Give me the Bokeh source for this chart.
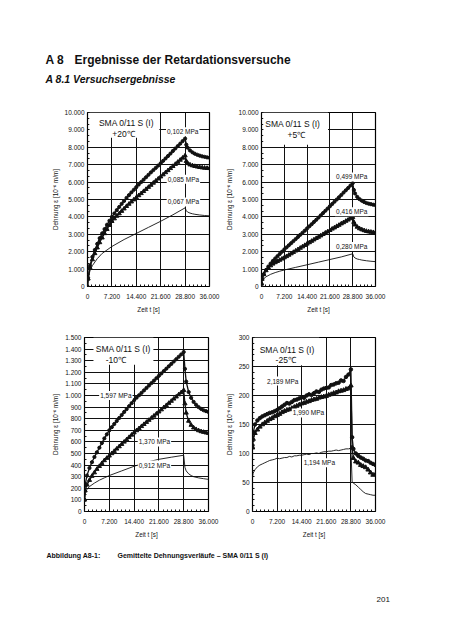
from bokeh.plotting import figure
from bokeh.models import Range1d, FixedTicker, Label, BoxAnnotation
from bokeh.layouts import column, row
from bokeh.embed import file_html
from bokeh.resources import INLINE

FONT = "Liberation Sans"
INK = "#111111"

# ---------------- data ----------------
# sampling times [s]
T_LOAD = [0, 180] + list(range(720, 28801, 720))
T_REC = [28800, 29160, 29520, 30240, 30960, 31680, 32400, 33120, 33840, 34560, 35280, 36000]
T_THIN_LOAD = [0, 180, 720, 1440, 2880, 4320, 5760, 7200, 10800, 14400, 18000, 21600, 25200, 28800]
T_THIN_REC = [28800, 29160, 29520, 30240, 30960, 31680, 33120, 34560, 36000]

X_TICKS = [0, 7200, 14400, 21600, 28800, 36000]
X_TICK_LABELS = ["0", "7.200", "14.400", "21.600", "28.800", "36.000"]

# +20 °C
P20_102_LOAD = [0, 500, 1200, 1700, 2100, 2450, 2780, 3050, 3300, 3550, 3780, 4000, 4200, 4390, 4570, 4750,
                4920, 5090, 5250, 5410, 5560, 5710, 5860, 6000, 6140, 6280, 6420, 6560, 6690, 6820, 6950,
                7080, 7220, 7360, 7500, 7640, 7790, 7930, 8070, 8210, 8360, 8500]
P20_102_REC = [8500, 8150, 7980, 7820, 7710, 7630, 7570, 7520, 7480, 7450, 7420, 7400]
P20_085_LOAD = [0, 450, 1100, 1550, 1900, 2230, 2530, 2800, 3050, 3290, 3520, 3750, 3900, 4050, 4190, 4330,
                4470, 4610, 4740, 4870, 4990, 5110, 5230, 5350, 5470, 5590, 5710, 5830, 5950, 6070, 6190,
                6310, 6430, 6550, 6670, 6790, 6910, 7030, 7150, 7270, 7390, 7520]
P20_085_REC = [7520, 7200, 7080, 7000, 6950, 6910, 6880, 6850, 6830, 6810, 6800, 6790]
P20_067_LOAD = [0, 450, 900, 1200, 1600, 1900, 2100, 2300, 2700, 3050, 3400, 3750, 4120, 4520]
P20_067_REC = [4520, 4350, 4280, 4220, 4180, 4150, 4110, 4080, 4060]

# +5 °C
P5_499_LOAD = [150, 450, 700, 950, 1150, 1320, 1470, 1610, 1740, 1870, 2000, 2130, 2250, 2370, 2490, 2610,
               2730, 2850, 2970, 3090, 3210, 3340, 3460, 3580, 3710, 3830, 3960, 4090, 4220, 4350, 4480,
               4610, 4740, 4870, 5000, 5130, 5260, 5400, 5530, 5660, 5800, 5940]
P5_499_REC = [5940, 5550, 5350, 5150, 5020, 4930, 4860, 4800, 4760, 4730, 4700, 4680]
P5_416_LOAD = [150, 430, 700, 920, 1080, 1200, 1300, 1380, 1450, 1520, 1590, 1660, 1730, 1810, 1890, 1970,
               2050, 2130, 2210, 2290, 2370, 2450, 2530, 2610, 2690, 2770, 2840, 2920, 3000, 3080, 3150,
               3230, 3310, 3380, 3460, 3530, 3610, 3680, 3760, 3830, 3910, 3980]
P5_416_REC = [3980, 3700, 3550, 3420, 3330, 3270, 3220, 3180, 3150, 3130, 3110, 3100]
P5_280_LOAD = [100, 300, 450, 560, 700, 800, 880, 950, 1100, 1250, 1400, 1550, 1700, 1880]
P5_280_REC = [1880, 1700, 1640, 1580, 1550, 1520, 1480, 1450, 1430]

# -10 °C
M10_1597_LOAD = [100, 230, 310, 375, 425, 470, 510, 550, 590, 630, 665, 700, 727, 754, 780, 806, 832, 858,
                 883, 908, 934, 960, 981, 1002, 1023, 1044, 1065, 1086, 1107, 1128, 1149, 1170, 1190, 1211,
                 1231, 1252, 1272, 1293, 1313, 1334, 1354, 1375]
M10_1597_REC = [1375, 1230, 1120, 1030, 980, 945, 920, 900, 885, 873, 865, 858]
M10_1370_LOAD = [100, 180, 230, 270, 305, 335, 365, 390, 415, 440, 460, 480, 500, 520, 540, 560, 580, 600,
                 620, 640, 660, 680, 698, 716, 734, 752, 770, 788, 806, 824, 842, 860, 878, 897, 915, 934,
                 952, 971, 989, 1008, 1026, 1045]
M10_1370_REC = [1045, 930, 850, 780, 745, 722, 708, 698, 690, 684, 679, 675]
M10_912_LOAD = [100, 150, 190, 215, 245, 270, 290, 310, 350, 390, 425, 450, 468, 485]
M10_912_REC = [485, 380, 350, 325, 310, 300, 290, 283, 277]

# -25 °C
M25_2189_LOAD = [114, 135, 150, 157, 161, 164, 166, 168, 170, 171, 173, 175, 178, 181, 184, 187, 186, 189,
                 192, 193, 195, 197, 196, 200, 202, 201, 204, 207, 206, 210, 212, 213, 214, 218, 219, 221,
                 222, 226, 225, 232, 236, 245]
M25_2189_REC = [245, 128, 108, 100, 96, 93, 91, 88, 87, 84, 82, 80]
M25_1990_LOAD = [110, 125, 135, 141, 146, 150, 153, 156, 159, 161, 164, 166, 168, 171, 173, 175, 176, 178,
                 180, 182, 184, 186, 187, 189, 190, 192, 193, 194, 196, 197, 198, 199, 201, 202, 204, 205,
                 207, 208, 209, 211, 212, 217]
M25_1990_REC = [217, 110, 92, 86, 84, 80, 78, 76, 72, 67, 63, 64]
M25_1194_LOAD = [60, 66, 72, 77, 80, 82, 84, 86, 88, 89, 90, 92, 91, 92, 93, 93, 95, 94, 96, 96, 97, 97,
                 98, 99, 98, 100, 100, 101, 100, 102, 103, 103, 104, 104, 105, 106, 105, 106, 107, 108,
                 108, 109]
M25_1194_REC = [109, 51, 49, 46, 42, 38, 34, 31, 30, 29, 28, 28]

Y_TICKS_10K = [0, 1000, 2000, 3000, 4000, 5000, 6000, 7000, 8000, 9000, 10000]
Y_LABELS_10K = ["0", "1.000", "2.000", "3.000", "4.000", "5.000", "6.000", "7.000", "8.000", "9.000", "10.000"]
Y_TICKS_1500 = list(range(0, 1501, 100))
Y_LABELS_1500 = ["0", "100", "200", "300", "400", "500", "600", "700", "800", "900",
                 "1.000", "1.100", "1.200", "1.300", "1.400", "1.500"]
Y_TICKS_300 = [0, 50, 100, 150, 200, 250, 300]
Y_LABELS_300 = ["0", "50", "100", "150", "200", "250", "300"]

Y_LABEL = "Dehnung \u03b5 [10\u207b\u2076 m/m]"


def panel(w, h, bl, br, bt, bb, ymax, yticks, ylabels, yminor_step,
          marked, thin, curve_labels, box, titles):
    p = figure(width=w, height=h, x_range=Range1d(0, 36000), y_range=Range1d(0, ymax),
               min_border_left=bl, min_border_right=br, min_border_top=bt, min_border_bottom=bb,
               toolbar_location=None, output_backend="svg",
               outline_line_color="black", outline_line_width=1.2,
               background_fill_color="white", border_fill_color="white")
    yminor = [i * yminor_step for i in range(int(round(ymax / yminor_step)) + 1)]
    p.xaxis.ticker = FixedTicker(ticks=X_TICKS, minor_ticks=list(range(0, 36001, 1200)))
    p.xaxis.major_label_overrides = dict(zip(X_TICKS, X_TICK_LABELS))
    p.yaxis.ticker = FixedTicker(ticks=yticks, minor_ticks=yminor)
    p.yaxis.major_label_overrides = dict(zip(yticks, ylabels))
    p.xaxis.axis_label = "Zeit t [s]"
    p.yaxis.axis_label = Y_LABEL
    for ax in (p.xaxis, p.yaxis):
        ax.axis_line_color = None
        ax.major_tick_in = 0
        ax.major_tick_out = 0
        ax.minor_tick_in = 2
        ax.minor_tick_out = 0
        ax.minor_tick_line_color = INK
        ax.major_label_text_font = FONT
        ax.major_label_text_font_size = "6.5px"
        ax.major_label_text_color = INK
        ax.axis_label_text_font = FONT
        ax.axis_label_text_font_size = "6.3px"
        ax.axis_label_text_font_style = "normal"
        ax.axis_label_text_color = INK
    p.xaxis.major_label_standoff = 7
    p.xaxis.axis_label_standoff = 4
    p.yaxis.major_label_standoff = 3
    p.yaxis.axis_label_standoff = 3
    p.xgrid.ticker = FixedTicker(ticks=X_TICKS)
    p.ygrid.ticker = FixedTicker(ticks=yticks)
    for g in (p.xgrid, p.ygrid):
        g.grid_line_color = INK
        g.grid_line_width = 1
        g.grid_line_alpha = 1

    for t, v in thin:
        p.line(t, v, line_color=INK, line_width=0.9)
    for t, v, marker, size in marked:
        p.line(t, v, line_color=INK, line_width=1.3)
        p.scatter(t, v, marker=marker, size=size, fill_color=INK, line_color=INK)

    l, r, b, tp = box
    p.add_layout(BoxAnnotation(left=l, right=r, bottom=b, top=tp, fill_color="white",
                               fill_alpha=1, line_alpha=0))
    for text, x, y in titles:
        p.add_layout(Label(x=x, y=y, text=text, text_font=FONT, text_font_size="8.5px",
                           text_color=INK, text_align="center", text_baseline="middle"))
    for text, x, y in curve_labels:
        p.add_layout(Label(x=x, y=y, text=text, text_font=FONT, text_font_size="6.5px",
                           text_color=INK, text_align="center", text_baseline="middle",
                           background_fill_color="white", background_fill_alpha=1, padding=1))
    return p


def full(load_t, load_v, rec_t, rec_v):
    return load_t + rec_t[1:], load_v + rec_v[1:]


f1 = panel(220, 220, 87, 11, 9, 36, 10000, Y_TICKS_10K, Y_LABELS_10K, 1000 / 3,
           [(*full(T_LOAD, P20_102_LOAD, T_REC, P20_102_REC), "circle", 3.2),
            (*full(T_LOAD, P20_085_LOAD, T_REC, P20_085_REC), "triangle", 4.2)],
           [full(T_THIN_LOAD, P20_067_LOAD, T_THIN_REC, P20_067_REC)],
           [("0,102 MPa", 28100, 8900), ("0,085 MPa", 28300, 6170), ("0,067 MPa", 28300, 4860)],
           (600, 21200, 8550, 10000),
           [("SMA 0/11 S (I)", 11500, 9400), ("+20\u2103", 10600, 8740)])

f2 = panel(216, 220, 41, 61, 10, 35, 10000, Y_TICKS_10K, Y_LABELS_10K, 1000 / 3,
           [(*full(T_LOAD, P5_499_LOAD, T_REC, P5_499_REC), "circle", 3.2),
            (*full(T_LOAD, P5_416_LOAD, T_REC, P5_416_REC), "triangle", 4.2)],
           [full(T_THIN_LOAD, P5_280_LOAD, T_THIN_REC, P5_280_REC)],
           [("0,499 MPa", 28500, 6300), ("0,416 MPa", 28500, 4300), ("0,280 MPa", 28500, 2300)],
           (600, 21000, 8150, 10000),
           [("SMA 0/11 S (I)", 9900, 9330), ("+5\u2103", 11000, 8690)])

f3 = panel(220, 222, 84, 12, 13, 33, 1500, Y_TICKS_1500, Y_LABELS_1500, 50,
           [(*full(T_LOAD, M10_1597_LOAD, T_REC, M10_1597_REC), "circle", 3.2),
            (*full(T_LOAD, M10_1370_LOAD, T_REC, M10_1370_REC), "triangle", 4.2)],
           [full(T_THIN_LOAD, M10_912_LOAD, T_THIN_REC, M10_912_REC)],
           [("1,597 MPa", 9100, 1000), ("1,370 MPa", 20300, 600), ("0,912 MPa", 20300, 400)],
           (2600, 20000, 1265, 1500),
           [("SMA 0/11 S (I)", 11260, 1400), ("-10\u2103", 9090, 1310)])

f4 = panel(216, 222, 32, 61, 15, 32, 300, Y_TICKS_300, Y_LABELS_300, 10,
           [(*full(T_LOAD, M25_2189_LOAD, T_REC, M25_2189_REC), "circle", 3.5),
            (*full(T_LOAD, M25_1990_LOAD, T_REC, M25_1990_REC), "triangle", 4.5)],
           [full(T_LOAD, M25_1194_LOAD, T_REC, M25_1194_REC)],
           [("2,189 MPa", 8850, 225), ("1,990 MPa", 16390, 170), ("1,194 MPa", 19565, 84)],
           (600, 19500, 252, 300),
           [("SMA 0/11 S (I)", 10160, 279), ("-25\u2103", 9720, 261)])


def sheet(h, y0, y1):
    s = figure(width=436, height=h, x_range=Range1d(8, 444), y_range=Range1d(y1, y0),
               min_border=0, toolbar_location=None, output_backend="svg",
               x_axis_type=None, y_axis_type=None, outline_line_color=None,
               background_fill_color="white", border_fill_color="white")
    s.xgrid.visible = False
    s.ygrid.visible = False
    return s


hdr = sheet(102, 8, 110)
hdr.add_layout(Label(x=53, y=67, text="A 8", text_font=FONT, text_font_size="12px",
                     text_font_style="bold", text_color=INK, text_baseline="alphabetic"))
hdr.add_layout(Label(x=82, y=67, text="Ergebnisse der Retardationsversuche", text_font=FONT,
                     text_font_size="12px", text_font_style="bold", text_color=INK,
                     text_baseline="alphabetic"))
hdr.add_layout(Label(x=53, y=86, text="A 8.1 Versuchsergebnisse", text_font=FONT,
                     text_font_size="10.5px", text_font_style="bold italic", text_color=INK,
                     text_baseline="alphabetic"))

ftr = sheet(68, 552, 620)
ftr.add_layout(Label(x=54, y=562.5, text="Abbildung A8-1:", text_font=FONT, text_font_size="7px",
                     text_font_style="bold", text_color=INK, text_baseline="alphabetic"))
ftr.add_layout(Label(x=125, y=562.5, text="Gemittelte Dehnungsverl\u00e4ufe \u2013 SMA 0/11 S (I)",
                     text_font=FONT, text_font_size="7px", text_font_style="bold", text_color=INK,
                     text_baseline="alphabetic"))
ftr.add_layout(Label(x=384, y=607, text="201", text_font=FONT, text_font_size="8px",
                     text_color=INK, text_baseline="alphabetic"))

layout = column(hdr, row(f1, f2), row(f3, f4), ftr)

with open("out.html", "w") as fh:
    fh.write(file_html(layout, INLINE))
